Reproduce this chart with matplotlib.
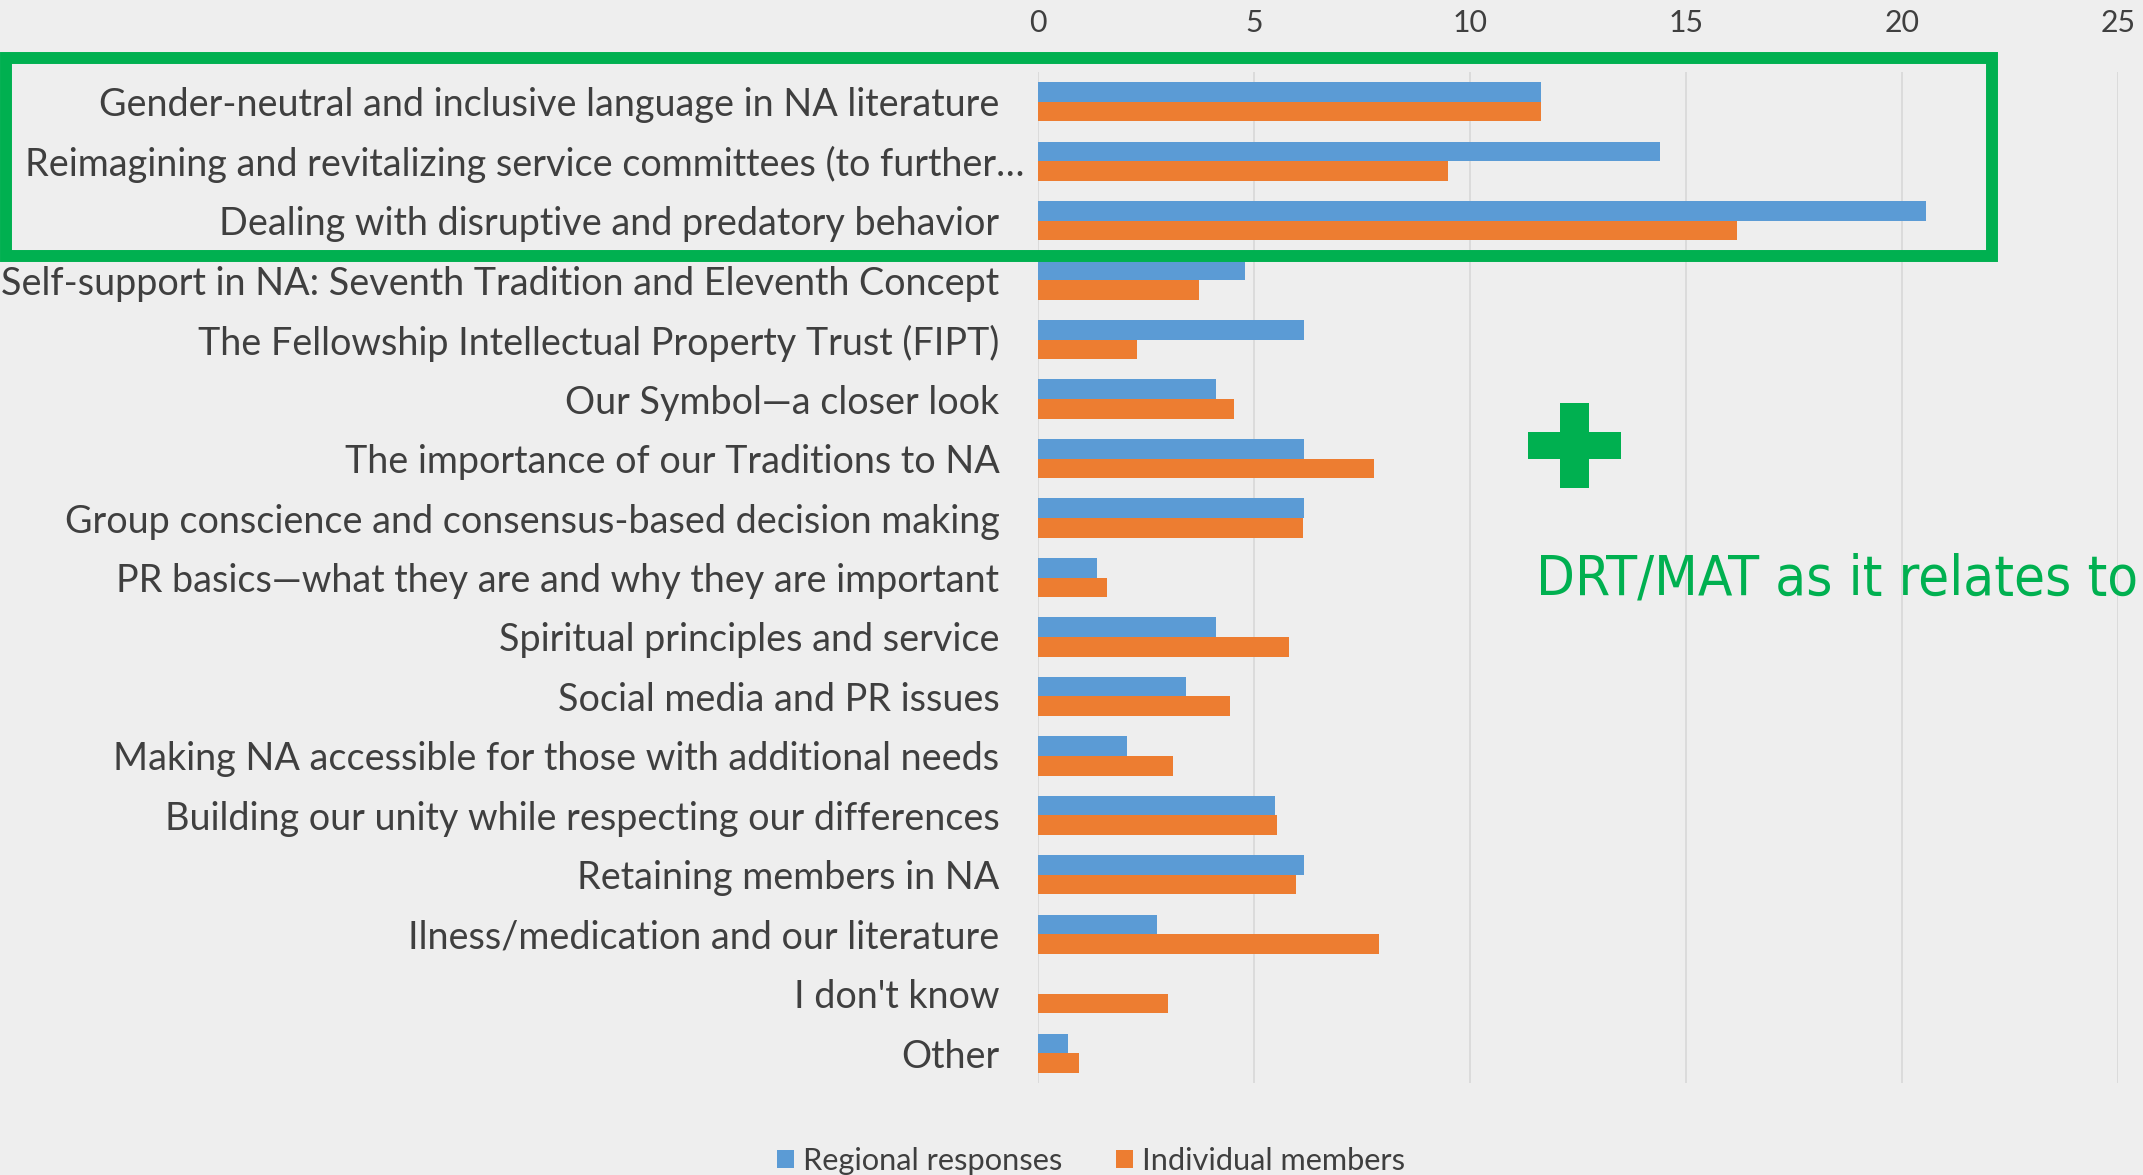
import matplotlib
matplotlib.use("Agg")
import matplotlib.pyplot as plt
from matplotlib.patches import Rectangle, Patch
from matplotlib.transforms import ScaledTranslation
from matplotlib.font_manager import FontProperties, findfont

categories = [
    "Gender-neutral and inclusive language in NA literature",
    "Reimagining and revitalizing service committees (to further\u2026",
    "Dealing with disruptive and predatory behavior",
    "Self-support in NA: Seventh Tradition and Eleventh Concept",
    "The Fellowship Intellectual Property Trust (FIPT)",
    "Our Symbol\u2014a closer look",
    "The importance of our Traditions to NA",
    "Group conscience and consensus-based decision making",
    "PR basics\u2014what they are and why they are important",
    "Spiritual principles and service",
    "Social media and PR issues",
    "Making NA accessible for those with additional needs",
    "Building our unity while respecting our differences",
    "Retaining members in NA",
    "Ilness/medication and our literature",
    "I don't know",
    "Other",
]
regional = [11.64, 14.38, 20.55, 4.79, 6.16, 4.11, 6.16, 6.16, 1.37, 4.11,
            3.42, 2.05, 5.48, 6.16, 2.74, 0.0, 0.68]
individual = [11.63, 9.48, 16.18, 3.73, 2.28, 4.54, 7.77, 6.12, 1.58, 5.80,
              4.44, 3.12, 5.53, 5.96, 7.89, 3.00, 0.95]
xticks = [0, 5, 10, 15, 20, 25]
series_names = ["Regional responses", "Individual members"]
annotation = "DRT/MAT as it relates to"

BLUE = "#5B9BD5"
ORANGE = "#ED7D31"
GREEN = "#00B050"
BG = "#EEEEEE"
TXT = "#3F3F3F"
FAM = ["Lato", "DejaVu Sans"]

# condensed face for the green annotation, if one is installed
ann_props = dict(family=FAM)
try:
    p = findfont(FontProperties(family="DejaVu Sans", stretch="condensed"),
                 fallback_to_default=False)
    if "ondensed" in p:
        ann_props = dict(family=["DejaVu Sans"], fontstretch="condensed")
except Exception:
    pass

W, H = 2143, 1175
fig = plt.figure(figsize=(W / 100, H / 100), dpi=100, facecolor=BG)
renderer = fig.canvas.get_renderer()


def text_width(s, size, **kw):
    if not kw:
        kw = dict(family=FAM)
    t = fig.text(0, 0, s, fontsize=size, **kw)
    w = t.get_window_extent(renderer).width
    t.remove()
    return w


label_size = 30 * 1000 / text_width(categories[1], 30)
legend_size = 20 * 260 / text_width(series_names[0], 20)
tick_size = label_size * 0.8
ann_size = 40 * 602 / text_width(annotation, 40, **ann_props)

left, right = 1038.3 / W, 2118.3 / W
top, bottom = 1 - 72 / H, 1 - 1083 / H
ax = fig.add_axes([left, bottom, right - left, top - bottom])
ax.set_facecolor(BG)

n = len(categories)
pos = list(range(n))
h = 0.33
ax.barh([p - h / 2 for p in pos], regional, height=h, color=BLUE, zorder=3)
ax.barh([p + h / 2 for p in pos], individual, height=h, color=ORANGE, zorder=3)

ax.set_xlim(0, 25)
ax.set_ylim(n - 0.5, -0.5)
ax.set_xticks(xticks)
ax.xaxis.tick_top()
ax.tick_params(axis="x", length=0, pad=25, labelsize=tick_size, labelcolor=TXT)
ax.tick_params(axis="y", length=0, pad=28, labelsize=label_size, labelcolor=TXT)
ax.set_yticks(pos)
ax.set_yticklabels(categories, family=FAM)
for lbl in ax.get_xticklabels():
    lbl.set_family(FAM)
ax.grid(axis="x", color="#D9D9D9", linewidth=1.3, zorder=0)
for s in ax.spines.values():
    s.set_visible(False)

# the truncated long label sits a little further right, as in the source
lbl = ax.get_yticklabels()[1]
lbl.set_transform(lbl.get_transform() + ScaledTranslation(0.25, 0, fig.dpi_scale_trans))

handles = [Patch(facecolor=BLUE), Patch(facecolor=ORANGE)]
fig.legend(handles, series_names, loc="center", bbox_to_anchor=(1091 / W, 1 - 1161 / H),
           ncol=2, frameon=False, prop={"family": FAM, "size": legend_size},
           labelcolor=TXT, handlelength=0.55, handleheight=0.55, handletextpad=0.3,
           columnspacing=1.75, borderpad=0.2)

# green highlight box
fig.add_artist(Rectangle((6 / W, 1 - 256 / H), 1986 / W, 198 / H, transform=fig.transFigure,
                         fill=False, edgecolor=GREEN, linewidth=8.6, zorder=10))
# green plus sign
fig.add_artist(Rectangle((1560 / W, 1 - 488 / H), 29 / W, 85 / H, transform=fig.transFigure,
                         facecolor=GREEN, edgecolor="none", zorder=10))
fig.add_artist(Rectangle((1528 / W, 1 - 459 / H), 93 / W, 27 / H, transform=fig.transFigure,
                         facecolor=GREEN, edgecolor="none", zorder=10))
fig.text(1536 / W, 1 - 595 / H, annotation, color=GREEN, fontsize=ann_size,
         ha="left", va="baseline", zorder=10, **ann_props)

fig.savefig("out.png", dpi=100, facecolor=BG)
